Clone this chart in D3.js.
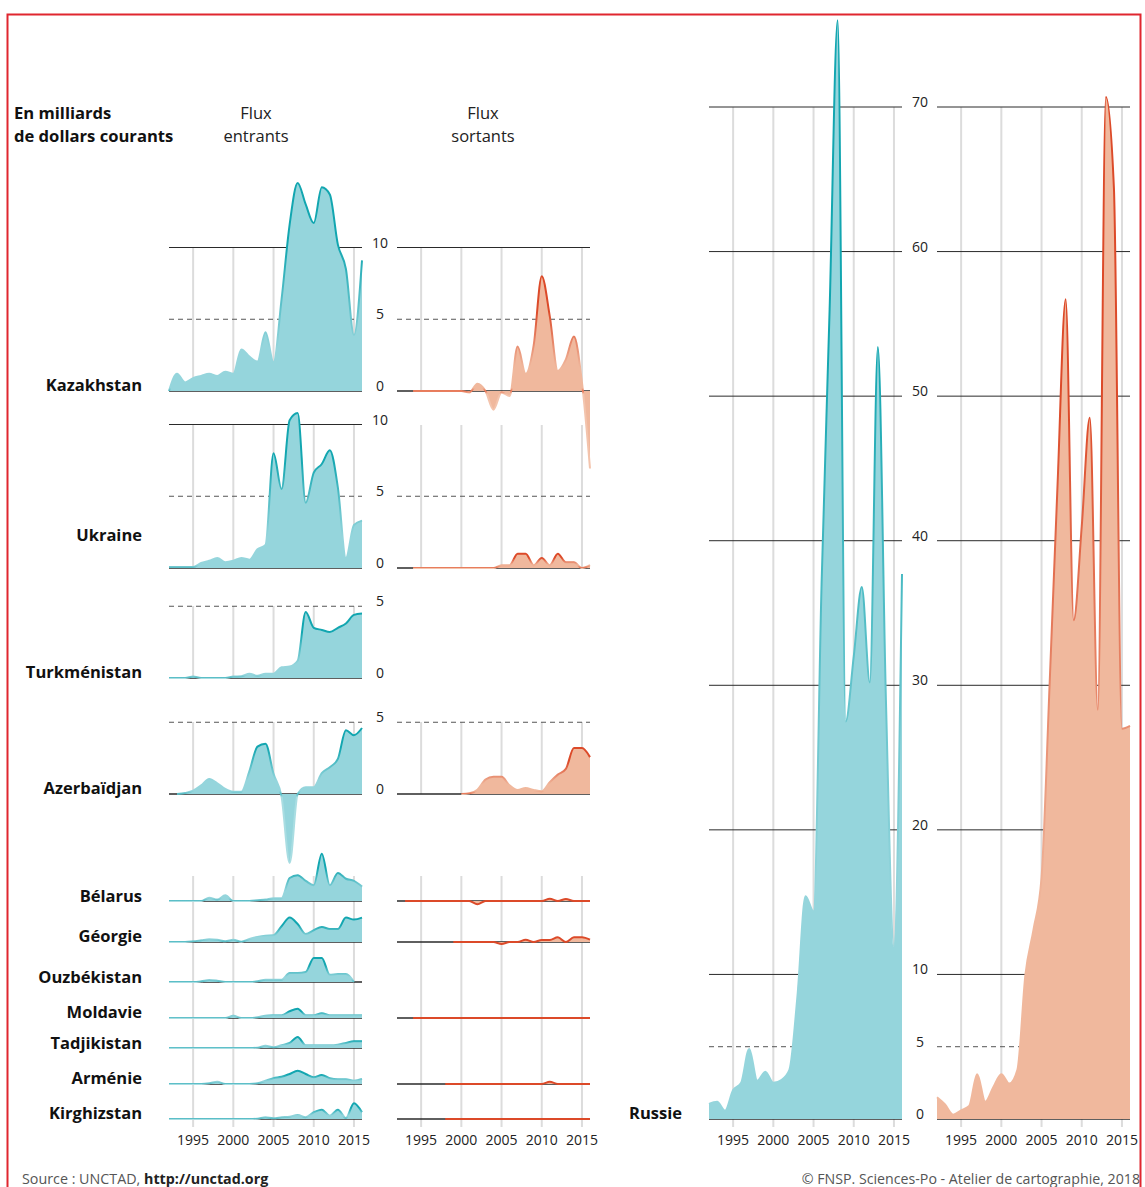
<!DOCTYPE html>
<html>
<head>
<meta charset="utf-8">
<script src="https://cdn.jsdelivr.net/npm/d3@7"></script>
<style>
  body { margin: 0; background: #fff; }
  svg text { font-family: "Open Sans", "Noto Sans", sans-serif; }
</style>
</head>
<body>
<svg id="chart"></svg>
<script>
// years 1992 -> 2016, values in billions of current dollars (null = no data)
const years = d3.range(1992, 2017);

const kazakhstanIn = [0, 1.2, 0.6, 0.9, 1.05, 1.2, 1.05, 1.35, 1.2, 2.9, 2.4, 2.05, 4.1, 2.0, 6.4, 11.6, 14.5, 13.0, 11.7, 14.2, 13.7, 10.2, 8.5, 3.9, 9.1];
const kazakhstanOut = [null, null, 0, 0, 0, 0, 0, 0, 0, -0.1, 0.5, 0, -1.3, -0.1, -0.35, 3.1, 1.2, 3.2, 8.0, 5.2, 1.4, 2.2, 3.8, 0.6, -5.4];
const ukraineIn = [0.07, 0.07, 0.07, 0.07, 0.35, 0.5, 0.7, 0.4, 0.5, 0.7, 0.58, 1.3, 1.6, 8.0, 5.5, 10.3, 10.8, 4.55, 6.65, 7.25, 8.2, 5.6, 0.7, 3.0, 3.3];
const ukraineOut = [null, null, 0, 0, 0, 0, 0, 0, 0, 0, 0, 0, 0, 0.2, 0.2, 1.0, 1.0, 0.2, 0.7, 0.2, 1.0, 0.4, 0.4, 0, 0.2];
const turkmenistanIn = [0, 0, 0, 0.1, 0, 0, 0, 0, 0.1, 0.12, 0.3, 0.15, 0.3, 0.3, 0.75, 0.8, 1.2, 4.6, 3.5, 3.35, 3.2, 3.5, 3.8, 4.4, 4.5];
const azerbaijanIn = [null, 0, 0.07, 0.23, 0.6, 1.05, 0.75, 0.35, 0.16, 0.16, 1.6, 3.3, 3.5, 1.4, -0.2, -4.8, 0, 0.47, 0.47, 1.45, 1.87, 2.45, 4.45, 4.1, 4.6];
const azerbaijanOut = [null, null, null, null, null, null, null, null, 0, 0.05, 0.3, 1.0, 1.2, 1.2, 0.6, 0.28, 0.42, 0.28, 0.19, 0.82, 1.35, 1.75, 3.2, 3.2, 2.57];
const belarusIn = [0, 0, 0, 0, 0, 0.23, 0.1, 0.4, 0, 0, 0, 0.05, 0.1, 0.2, 0.2, 1.6, 1.8, 1.4, 1.1, 3.3, 1.1, 1.95, 1.55, 1.4, 1.0];
const belarusOut = [null, 0, 0, 0, 0, 0, 0, 0, 0, 0, -0.23, 0, 0, 0, 0, 0, 0, 0, 0, 0.16, 0, 0.14, 0, 0, 0];
const georgiaIn = [0, 0, 0, 0.05, 0.12, 0.19, 0.16, 0.05, 0.16, 0.02, 0.21, 0.35, 0.44, 0.47, 1.1, 1.7, 1.25, 0.56, 0.82, 1.05, 0.9, 0.9, 1.7, 1.56, 1.7];
const georgiaOut = [null, null, null, null, null, null, null, 0, 0, 0, 0, 0, 0, -0.14, 0, 0, 0.16, 0, 0.14, 0.14, 0.33, 0, 0.33, 0.33, 0.16];
const uzbekistanIn = [0, 0, 0, 0, 0.05, 0.14, 0.09, 0, 0, 0, 0, 0.05, 0.16, 0.16, 0.16, 0.63, 0.63, 0.7, 1.68, 1.68, 0.5, 0.55, 0.55, 0, null];
const moldovaIn = [0, 0, 0, 0, 0, 0, 0, 0, 0.16, 0, 0, 0.05, 0.16, 0.19, 0.2, 0.47, 0.65, 0.19, 0.19, 0.33, 0.19, 0.2, 0.2, 0.2, 0.2];
const moldovaOut = [null, null, 0, 0, 0, 0, 0, 0, 0, 0, 0, 0, 0, 0, 0, 0, 0, 0, 0, 0, 0, 0, 0, 0, 0];
const tajikistanIn = [0, 0, 0, 0, 0, 0, 0, 0, 0, 0, 0, 0.02, 0.16, 0.05, 0.19, 0.35, 0.77, 0.19, 0.19, 0.19, 0.19, 0.23, 0.35, 0.47, 0.47];
const armeniaIn = [0, 0, 0, 0, 0, 0.05, 0.16, 0, 0, 0, 0, 0.05, 0.23, 0.4, 0.5, 0.7, 0.93, 0.7, 0.47, 0.63, 0.4, 0.33, 0.33, 0.23, 0.35];
const armeniaOut = [null, null, null, null, null, null, 0, 0, 0, 0, 0, 0, 0, 0, 0, 0, 0, 0, 0, 0.15, 0, 0, 0, 0, 0];
const kyrgyzIn = [0, 0, 0, 0, 0, 0, 0, 0, 0, 0, 0, 0.02, 0.12, 0.05, 0.12, 0.16, 0.28, 0.12, 0.47, 0.65, 0.23, 0.65, 0.07, 1.1, 0.47];
const kyrgyzOut = [null, null, null, null, null, null, 0, 0, 0, 0, 0, 0, 0, 0, 0, 0, 0, 0, 0, 0, 0, 0, 0, 0, 0];
const russiaIn = [1.04, 1.2, 0.57, 2.0, 2.5, 4.85, 2.65, 3.27, 2.5, 2.7, 3.4, 8.5, 15.4, 14.35, 37, 56, 76, 27.5, 32, 36.8, 30.2, 53.4, 29, 11.9, 37.7];
const russiaOut = [1.5, 1.0, 0.3, 0.6, 0.9, 3.1, 1.2, 2.2, 3.1, 2.45, 3.4, 10, 13.1, 16.7, 30, 44, 56.7, 34.5, 41, 48.5, 28.3, 70.7, 64.4, 27, 27.2];

const yearTicks = [1995, 2000, 2005, 2010, 2015];
const russiaTicks = [70, 60, 50, 40, 30, 20, 10];

const teal = {fill: "#95d5dc", dark: "#12a6b0", mid: "#4fbac3", light: "#a9dde2"};
const red = {fill: "#f0b89d", dark: "#dc4a29", mid: "#e6704f", light: "#f3c4ad"};

const W = 1145, H = 1187;
const k = 14.35; // px per billion, small panels

const svg = d3.select("#chart").attr("width", W).attr("height", H);
const defs = svg.append("defs");

const xIn = d3.scaleLinear().domain([1992, 2016]).range([169, 362]);
const xOut = d3.scaleLinear().domain([1992, 2016]).range([397, 590]);
const xRuIn = d3.scaleLinear().domain([1992, 2016]).range([709, 902]);
const xRuOut = d3.scaleLinear().domain([1992, 2016]).range([937, 1130]);

function yFor(base) {
  return d3.scaleLinear().domain([0, 10]).range([base, base - 10 * k]);
}

const panels = [
  {name: "Kazakhstan", base: 391, labelY: 391, inflow: kazakhstanIn, outflow: kazakhstanOut, inRefs: [10, 5], outRefs: [10, 5], gridTop: 248, ticks: [10, 5, 0]},
  {name: "Ukraine", base: 568, labelY: 541, inflow: ukraineIn, outflow: ukraineOut, inRefs: [10, 5], outRefs: [5], gridTop: 425, ticks: [10, 5, 0]},
  {name: "Turkménistan", base: 678, labelY: 678, inflow: turkmenistanIn, outflow: null, inRefs: [5], outRefs: [], gridTop: 606, ticks: [5, 0]},
  {name: "Azerbaïdjan", base: 794, labelY: 794, inflow: azerbaijanIn, outflow: azerbaijanOut, inRefs: [5], outRefs: [5], gridTop: 722, ticks: [5, 0]},
  {name: "Bélarus", base: 901, labelY: 902, inflow: belarusIn, outflow: belarusOut, inRefs: [], outRefs: [], ticks: []},
  {name: "Géorgie", base: 942, labelY: 942, inflow: georgiaIn, outflow: georgiaOut, inRefs: [], outRefs: [], ticks: []},
  {name: "Ouzbékistan", base: 982, labelY: 983, inflow: uzbekistanIn, outflow: null, inRefs: [], outRefs: [], ticks: []},
  {name: "Moldavie", base: 1018, labelY: 1018, inflow: moldovaIn, outflow: moldovaOut, inRefs: [], outRefs: [], ticks: []},
  {name: "Tadjikistan", base: 1048, labelY: 1049, inflow: tajikistanIn, outflow: null, inRefs: [], outRefs: [], ticks: []},
  {name: "Arménie", base: 1084, labelY: 1084, inflow: armeniaIn, outflow: armeniaOut, inRefs: [], outRefs: [], ticks: []},
  {name: "Kirghizstan", base: 1119, labelY: 1119, inflow: kyrgyzIn, outflow: kyrgyzOut, inRefs: [], outRefs: [], ticks: []},
];

const gGrid = svg.append("g");
const gRefs = svg.append("g");
const gMarks = svg.append("g");
const gText = svg.append("g");

function vGrid(x, top, bottom) {
  gGrid.selectAll(null)
    .data(yearTicks)
    .enter()
  .append("line")
    .attr("x1", d => x(d)).attr("x2", d => x(d))
    .attr("y1", top).attr("y2", bottom)
    .attr("stroke", "#dcdcdc")
    .attr("stroke-width", 2);
}

function refLine(x, y, v) {
  gRefs.append("line")
    .attr("x1", x.range()[0]).attr("x2", x.range()[1])
    .attr("y1", y(v)).attr("y2", y(v))
    .attr("stroke", v === 5 ? "#555" : "#2a2a2a")
    .attr("stroke-width", v === 0 ? 1.3 : 1)
    .attr("stroke-dasharray", v === 5 ? "5,4" : null);
}

let gradId = 0;
function drawSeries(values, x, y, col) {
  const pts = years.map((yr, i) => ({yr: yr, v: values[i]}));
  const area = d3.area()
    .defined(d => d.v != null)
    .curve(d3.curveMonotoneX)
    .x(d => x(d.yr))
    .y0(y(0))
    .y1(d => y(d.v));
  const line = d3.line()
    .defined(d => d.v != null)
    .curve(d3.curveMonotoneX)
    .x(d => x(d.yr))
    .y(d => y(d.v));

  gMarks.append("path")
    .attr("d", area(pts))
    .attr("fill", col.fill);

  const vals = values.filter(v => v != null);
  const yHi = y(Math.max(d3.max(vals), 0));
  const yLo = y(Math.min(d3.min(vals), 0));
  const y0 = y(0);
  let stroke = col.dark;
  if (yLo - yHi > 8) {
    const id = "g" + (gradId++);
    const span = yLo - yHi;
    const grad = defs.append("linearGradient")
      .attr("id", id)
      .attr("gradientUnits", "userSpaceOnUse")
      .attr("x1", 0).attr("x2", 0)
      .attr("y1", yHi).attr("y2", yLo);
    const o = (y0 - yHi) / span;
    const stops = [
      [0, col.dark],
      [o * 0.3, col.dark],
      [o * 0.8, col.fill],
      [Math.max(o * 0.8, o - 3 / span), col.fill],
      [o, col.mid],
      [Math.min(1, o + 3 / span), col.light],
      [1, col.light]
    ];
    grad.selectAll("stop")
      .data(stops)
      .enter()
    .append("stop")
      .attr("offset", d => d[0])
      .attr("stop-color", d => d[1]);
    stroke = "url(#" + id + ")";
  }
  gMarks.append("path")
    .attr("d", line(pts))
    .attr("fill", "none")
    .attr("stroke", stroke)
    .attr("stroke-width", 2)
    .attr("stroke-linejoin", "round");
}

// small multiples
panels.forEach(p => {
  const y = yFor(p.base);
  if (p.gridTop) {
    vGrid(xIn, p.gridTop, p.base);
    if (p.outflow) vGrid(xOut, p.gridTop, p.base);
  }
  p.inRefs.forEach(v => refLine(xIn, y, v));
  refLine(xIn, y, 0);
  if (p.outflow) {
    p.outRefs.forEach(v => refLine(xOut, y, v));
    refLine(xOut, y, 0);
  }
  drawSeries(p.inflow, xIn, y, teal);
  if (p.outflow) drawSeries(p.outflow, xOut, y, red);

  gText.append("text")
    .attr("x", 142).attr("y", p.labelY)
    .attr("text-anchor", "end")
    .attr("font-size", 16.5).attr("font-weight", "bold")
    .attr("fill", "#111")
    .text(p.name);

  gText.selectAll(null)
    .data(p.ticks)
    .enter()
  .append("text")
    .attr("x", 380).attr("y", d => y(d))
    .attr("text-anchor", "middle")
    .attr("font-size", 14)
    .attr("fill", "#222")
    .text(d => d);
});

// grid of the lower group
vGrid(xIn, 876, 1127);
vGrid(xOut, 876, 1127);

// Russia
const yRu = d3.scaleLinear().domain([0, 70]).range([1119, 107]);
vGrid(xRuIn, 107, 1127);
vGrid(xRuOut, 107, 1127);
[xRuIn, xRuOut].forEach(x => {
  russiaTicks.concat([5, 0]).forEach(v => refLine(x, yRu, v));
});
drawSeries(russiaIn, xRuIn, yRu, teal);
drawSeries(russiaOut, xRuOut, yRu, red);

gText.selectAll(null)
  .data(russiaTicks.concat([5, 0]))
  .enter()
.append("text")
  .attr("x", 920).attr("y", d => yRu(d))
  .attr("text-anchor", "middle")
  .attr("font-size", 14)
  .attr("fill", "#222")
  .text(d => d);

gText.append("text")
  .attr("x", 682).attr("y", 1119)
  .attr("text-anchor", "end")
  .attr("font-size", 16.5).attr("font-weight", "bold")
  .attr("fill", "#111")
  .text("Russie");

// year labels
[xIn, xOut, xRuIn, xRuOut].forEach(x => {
  gText.selectAll(null)
    .data(yearTicks)
    .enter()
  .append("text")
    .attr("x", d => x(d)).attr("y", 1145)
    .attr("text-anchor", "middle")
    .attr("font-size", 14)
    .attr("fill", "#222")
    .text(d => d);
});

// headings
const head = gText.append("text")
  .attr("font-size", 16.6).attr("font-weight", "bold").attr("fill", "#111");
head.append("tspan").attr("x", 14).attr("y", 119).text("En milliards");
head.append("tspan").attr("x", 14).attr("y", 142).text("de dollars courants");

[[256, "entrants"], [483, "sortants"]].forEach(d => {
  const t = gText.append("text")
    .attr("font-size", 16.5).attr("fill", "#222").attr("text-anchor", "middle");
  t.append("tspan").attr("x", d[0]).attr("y", 119).text("Flux");
  t.append("tspan").attr("x", d[0]).attr("y", 142).text(d[1]);
});

// footer
const src = gText.append("text")
  .attr("x", 22).attr("y", 1184)
  .attr("font-size", 14.3).attr("fill", "#555");
src.append("tspan").text("Source : UNCTAD, ");
src.append("tspan").attr("font-weight", "bold").attr("fill", "#222").text("http://unctad.org");

gText.append("text")
  .attr("x", 1140).attr("y", 1184)
  .attr("text-anchor", "end")
  .attr("font-size", 14.2).attr("fill", "#555")
  .text("© FNSP. Sciences-Po - Atelier de cartographie, 2018");

// frame
svg.append("rect")
  .attr("x", 7.5).attr("y", 14.5)
  .attr("width", 1133).attr("height", 1200)
  .attr("fill", "none")
  .attr("stroke", "#e0262f")
  .attr("stroke-width", 2);
</script>
</body>
</html>
